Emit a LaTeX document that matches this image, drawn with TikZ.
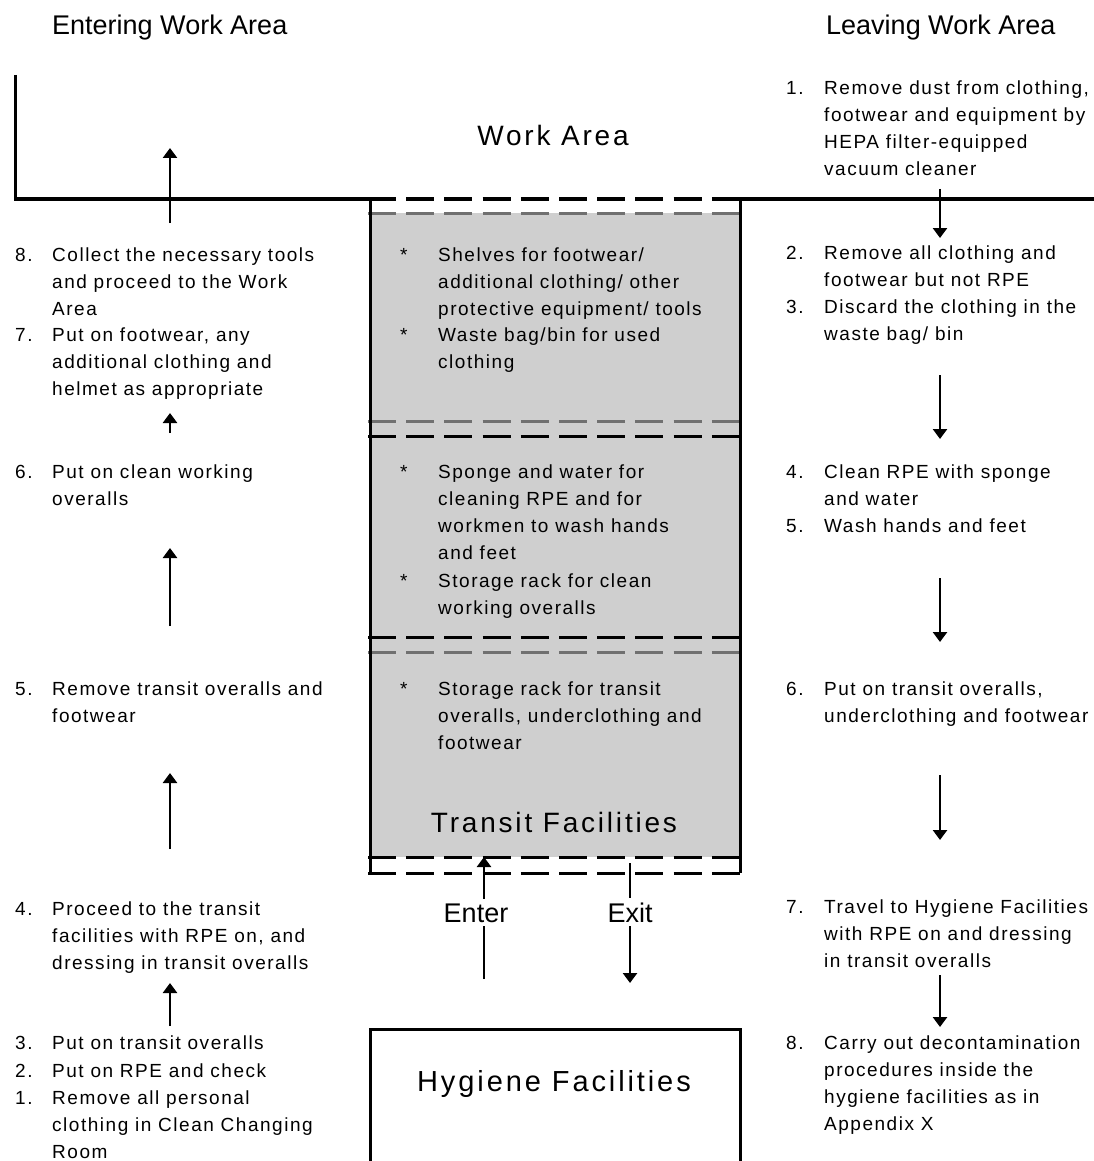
\documentclass[tikz,border=0pt]{standalone}
\usepackage{fontspec}
\setmainfont{Liberation Sans}
\newfontfamily\bodyfont[LetterSpace=8]{Liberation Sans}
\newfontfamily\boxfont[LetterSpace=10]{Liberation Sans}
\usetikzlibrary{arrows.meta}
\newcommand\mylines[1]{\begin{tabular}[t]{@{}l@{}}#1\end{tabular}}
\definecolor{boxgray}{HTML}{CFCFCF}
\definecolor{dashgray}{HTML}{707070}
\begin{document}
\begin{tikzpicture}[x=1pt,y=-1pt,
  body/.style={anchor=base west, inner sep=0pt, font=\bodyfont\fontsize{19}{27}\selectfont},
  head/.style={anchor=base west, inner sep=0pt, font=\fontsize{27}{32}\selectfont},
  big/.style={anchor=base, inner sep=0pt, font=\boxfont\fontsize{28}{34}\selectfont},
  heavy/.style={line width=3pt},
  blackdash/.style={line width=3pt, dash pattern=on 28pt off 10.2pt},
  graydash/.style={line width=3pt, dashgray, dash pattern=on 28pt off 10.2pt},
  flow/.style={line width=2.5pt, -{Triangle[length=10pt,width=14pt]}}]
\useasboundingbox (0,0) rectangle (1094,1161);

% transit box
\fill[boxgray] (370,213) rectangle (742,857);
\draw[blackdash] (368,199) -- (742,199);
\draw[graydash] (368,213) -- (742,213);
\draw[graydash] (368,421) -- (742,421);
\draw[blackdash] (368,436) -- (742,436);
\draw[blackdash] (368,637) -- (742,637);
\draw[graydash] (368,652) -- (742,652);
\draw[blackdash] (368,857) -- (742,857);
\draw[blackdash] (368,873) -- (742,873);
\draw[heavy] (370,199) -- (370,873);
\draw[heavy] (740,199) -- (740,873);

% work area boundary
\draw[heavy] (15,75) -- (15,199) -- (370,199);
\draw[heavy] (740,199) -- (1094,199);

% hygiene box
\draw[heavy] (370,1161) -- (370,1029) -- (740,1029) -- (740,1161);

% headings
\node[head] (enterhead) at (52,35) {Entering Work Area};
\node[head] (leavehead) at (826,35) {Leaving Work Area};
\node[big] (workarea) at (553,146) {Work Area};
\node[big] (transit) at (554,832) {Transit Facilities};
\node[big, font=\boxfont\fontsize{29}{34}\selectfont] (hygiene) at (554,1091) {Hygiene Facilities};

% left column
\node[body] (l8n) at (15,261) {8.};
\node[body] (l8) at (52,261) {\mylines{Collect the necessary tools\\and proceed to the Work\\Area}};
\node[body] (l7n) at (15,341) {7.};
\node[body] (l7) at (52,341) {\mylines{Put on footwear, any\\additional clothing and\\helmet as appropriate}};
\node[body] (l6n) at (15,478) {6.};
\node[body] (l6) at (52,478) {\mylines{Put on clean working\\overalls}};
\node[body] (l5n) at (15,695) {5.};
\node[body] (l5) at (52,695) {\mylines{Remove transit overalls and\\footwear}};
\node[body] (l4n) at (15,915) {4.};
\node[body] (l4) at (52,915) {\mylines{Proceed to the transit\\facilities with RPE on, and\\dressing in transit overalls}};
\node[body] (l3n) at (15,1049) {3.};
\node[body] (l3) at (52,1049) {Put on transit overalls};
\node[body] (l2n) at (15,1077) {2.};
\node[body] (l2) at (52,1077) {Put on RPE and check};
\node[body] (l1n) at (15,1104) {1.};
\node[body] (l1) at (52,1104) {\mylines{Remove all personal\\clothing in Clean Changing\\Room}};

% right column
\node[body] (r1n) at (786,95) {1.};
\node[body] (r1) at (824,95) {\mylines{Remove dust from clothing,\\footwear and equipment by\\HEPA filter-equipped\\vacuum cleaner}};
\node[body] (r2n) at (786,259) {2.};
\node[body] (r2) at (824,259) {\mylines{Remove all clothing and\\footwear but not RPE}};
\node[body] (r3n) at (786,313) {3.};
\node[body] (r3) at (824,313) {\mylines{Discard the clothing in the\\waste bag/ bin}};
\node[body] (r4n) at (786,478) {4.};
\node[body] (r4) at (824,478) {\mylines{Clean RPE with sponge\\and water}};
\node[body] (r5n) at (786,532) {5.};
\node[body] (r5) at (824,532) {Wash hands and feet};
\node[body] (r6n) at (786,695) {6.};
\node[body] (r6) at (824,695) {\mylines{Put on transit overalls,\\underclothing and footwear}};
\node[body] (r7n) at (786,913) {7.};
\node[body] (r7) at (824,913) {\mylines{Travel to Hygiene Facilities\\with RPE on and dressing\\in transit overalls}};
\node[body] (r8n) at (786,1049) {8.};
\node[body] (r8) at (824,1049) {\mylines{Carry out decontamination\\procedures inside the\\hygiene facilities as in\\Appendix X}};

% centre items
\node[body] (c1b) at (400,261) {*};
\node[body] (c1) at (438,261) {\mylines{Shelves for footwear/\\additional clothing/ other\\protective equipment/ tools}};
\node[body] (c2b) at (400,341) {*};
\node[body] (c2) at (438,341) {\mylines{Waste bag/bin for used\\clothing}};
\node[body] (c3b) at (400,478) {*};
\node[body] (c3) at (438,478) {\mylines{Sponge and water for\\cleaning RPE and for\\workmen to wash hands\\and feet}};
\node[body] (c4b) at (400,587) {*};
\node[body] (c4) at (438,587) {\mylines{Storage rack for clean\\working overalls}};
\node[body] (c5b) at (400,695) {*};
\node[body] (c5) at (438,695) {\mylines{Storage rack for transit\\overalls, underclothing and\\footwear}};

% left arrows (upwards)
\coordinate (la1s) at (170,223); \coordinate (la1e) at (170,148);
\coordinate (la2s) at (170,433); \coordinate (la2e) at (170,413);
\coordinate (la3s) at (170,626); \coordinate (la3e) at (170,548);
\coordinate (la4s) at (170,849); \coordinate (la4e) at (170,773);
\coordinate (la5s) at (170,1026); \coordinate (la5e) at (170,983);
\foreach \i in {1,...,5} \draw[flow] (la\i s) -- (la\i e);

% right arrows (downwards)
\coordinate (ra1s) at (940,189); \coordinate (ra1e) at (940,238);
\coordinate (ra2s) at (940,375); \coordinate (ra2e) at (940,439);
\coordinate (ra3s) at (940,578); \coordinate (ra3e) at (940,642);
\coordinate (ra4s) at (940,775); \coordinate (ra4e) at (940,840);
\coordinate (ra5s) at (940,975); \coordinate (ra5e) at (940,1027);
\foreach \i in {1,...,5} \draw[flow] (ra\i s) -- (ra\i e);

% enter / exit
\coordinate (ens) at (484,979); \coordinate (ene) at (484,857);
\coordinate (exs) at (630,863); \coordinate (exe) at (630,983);
\draw[flow] (ens) -- (ene);
\draw[flow] (exs) -- (exe);
\node[anchor=base, fill=white, inner sep=4pt, font=\fontsize{27}{32}\selectfont] (enter) at (476,922) {Enter};
\node[anchor=base, fill=white, inner sep=4pt, font=\fontsize{27}{32}\selectfont] (exit) at (630,922) {Exit};
\end{tikzpicture}
\end{document}
